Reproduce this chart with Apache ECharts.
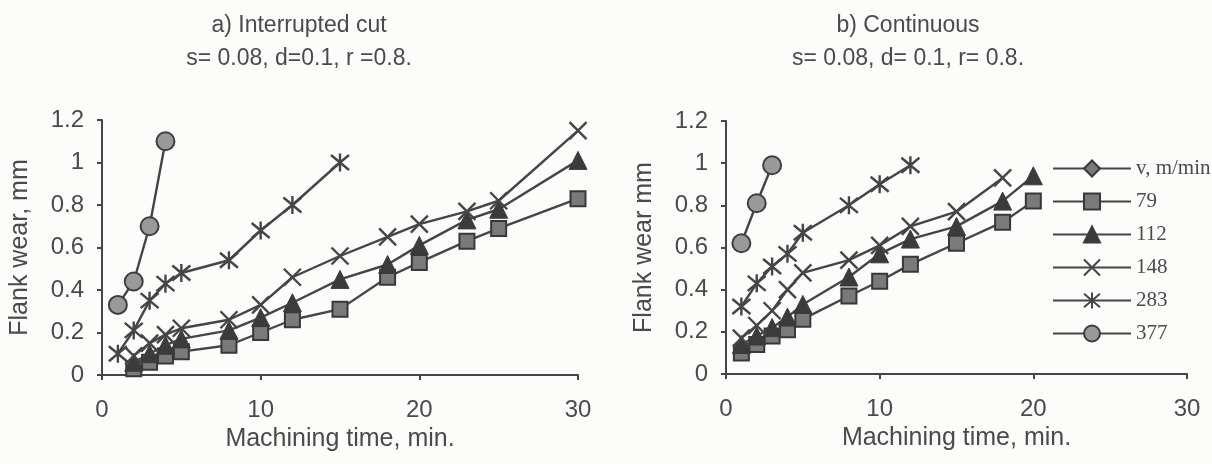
<!DOCTYPE html>
<html>
<head>
<meta charset="utf-8">
<script src="https://cdn.jsdelivr.net/npm/echarts@6/dist/echarts.min.js"></script>
<style>
html,body{margin:0;padding:0;background:#fcfcfa;}
#c{width:1212px;height:464px;}
</style>
</head>
<body>
<div id="c"></div>
<script>
// ---- Data ----
const seriesNames = ['79', '112', '148', '283', '377'];
const legendHeader = 'v, m/min';

// a) Interrupted cut
const a_x79  = [2, 3, 4, 5, 8, 10, 12, 15, 18, 20, 23, 25, 30];
const a_y79  = [0.03, 0.06, 0.09, 0.11, 0.14, 0.20, 0.26, 0.31, 0.46, 0.53, 0.63, 0.69, 0.83];
const a_x112 = [2, 3, 4, 5, 8, 10, 12, 15, 18, 20, 23, 25, 30];
const a_y112 = [0.06, 0.10, 0.14, 0.17, 0.21, 0.27, 0.34, 0.45, 0.52, 0.61, 0.73, 0.78, 1.01];
const a_x148 = [2, 3, 4, 5, 8, 10, 12, 15, 18, 20, 23, 25, 30];
const a_y148 = [0.09, 0.15, 0.19, 0.22, 0.26, 0.33, 0.46, 0.56, 0.65, 0.71, 0.77, 0.82, 1.15];
const a_x283 = [1, 2, 3, 4, 5, 8, 10, 12, 15];
const a_y283 = [0.10, 0.21, 0.35, 0.43, 0.48, 0.54, 0.68, 0.80, 1.00];
const a_x377 = [1, 2, 3, 4];
const a_y377 = [0.33, 0.44, 0.70, 1.10];

// b) Continuous
const b_x79  = [1, 2, 3, 4, 5, 8, 10, 12, 15, 18, 20];
const b_y79  = [0.10, 0.14, 0.18, 0.21, 0.26, 0.37, 0.44, 0.52, 0.62, 0.72, 0.82];
const b_x112 = [1, 2, 3, 4, 5, 8, 10, 12, 15, 18, 20];
const b_y112 = [0.14, 0.18, 0.22, 0.27, 0.33, 0.46, 0.57, 0.64, 0.70, 0.82, 0.94];
const b_x148 = [1, 2, 3, 4, 5, 8, 10, 12, 15, 18];
const b_y148 = [0.17, 0.23, 0.30, 0.40, 0.48, 0.54, 0.61, 0.70, 0.77, 0.93];
const b_x283 = [1, 2, 3, 4, 5, 8, 10, 12];
const b_y283 = [0.32, 0.43, 0.51, 0.57, 0.67, 0.80, 0.90, 0.99];
const b_x377 = [1, 2, 3];
const b_y377 = [0.62, 0.81, 0.99];

// tick settings
const xTicks = {min: 0, max: 30, interval: 10};
const yTicks = {min: 0, max: 1.2, interval: 0.2};

const titleA = ['a) Interrupted cut', 's= 0.08, d=0.1, r =0.8.'];
const titleB = ['b) Continuous', 's= 0.08, d= 0.1, r= 0.8.'];
const xName = 'Machining time, min.';
const yNameA = 'Flank wear, mm';
const yNameB = 'Flank wear mm';

// ---- Styles ----
const INK = '#454545';
const TXT = '#4a4a4a';
const SANS = '"Liberation Sans", Arial, sans-serif';
const SERIF = '"Liberation Serif", "Times New Roman", serif';

const symbolStyles = {
  '79':  {symbol: 'rect', symbolSize: 15, itemStyle: {color: '#7a7a7a', borderColor: '#383838', borderWidth: 2}},
  '112': {symbol: 'triangle', symbolSize: 18, itemStyle: {color: '#3b3b3b', borderColor: '#3b3b3b', borderWidth: 1}},
  '148': {symbol: 'path://M0,0L20,20M20,0L0,20', symbolSize: 17, itemStyle: {color: 'rgba(0,0,0,0)', borderColor: INK, borderWidth: 2.4}},
  '283': {symbol: 'path://M0,0L20,20M20,0L0,20M10,-2L10,22', symbolSize: 18, itemStyle: {color: 'rgba(0,0,0,0)', borderColor: INK, borderWidth: 2.4}},
  '377': {symbol: 'circle', symbolSize: 18, itemStyle: {color: '#999999', borderColor: '#3e3e3e', borderWidth: 2}}
};

function zip(xs, ys) { return xs.map((x, i) => [x, ys[i]]); }

function mkSeries(name, xs, ys, idx) {
  const s = symbolStyles[name];
  return {
    name: name, type: 'line', xAxisIndex: idx, yAxisIndex: idx,
    data: zip(xs, ys),
    symbol: s.symbol, symbolSize: s.symbolSize,
    itemStyle: s.itemStyle,
    lineStyle: {color: INK, width: 2.4},
    showAllSymbol: true, animation: false, z: 3
  };
}

function xAxis(gridIndex) {
  return {
    type: 'value', gridIndex: gridIndex, min: xTicks.min, max: xTicks.max, interval: xTicks.interval,
    name: xName, nameLocation: 'middle', nameGap: 51,
    nameTextStyle: {fontFamily: SANS, fontSize: 25, color: TXT},
    axisLine: {show: true, onZero: false, lineStyle: {color: INK, width: 2}},
    axisTick: {show: true, length: 5, lineStyle: {color: INK, width: 2}},
    axisLabel: {fontFamily: SANS, fontSize: 24, color: TXT, margin: 23},
    splitLine: {show: false}
  };
}
function yAxis(gridIndex, name) {
  return {
    type: 'value', gridIndex: gridIndex, min: yTicks.min, max: yTicks.max, interval: yTicks.interval,
    name: name, nameLocation: 'middle', nameGap: 69, nameRotate: 90,
    nameTextStyle: {fontFamily: SANS, fontSize: 25, color: TXT},
    axisLine: {show: true, onZero: false, lineStyle: {color: INK, width: 2}},
    axisTick: {show: true, length: 5, lineStyle: {color: INK, width: 2}},
    axisLabel: {fontFamily: SANS, fontSize: 24, color: TXT, margin: 18},
    splitLine: {show: false}
  };
}

const chart = echarts.init(document.getElementById('c'), null, {renderer: 'canvas'});
chart.setOption({
  backgroundColor: '#fcfcfa',
  animation: false,
  title: [
    {text: titleA.join('\n'), left: 294, top: 4, textAlign: 'center',
     textStyle: {fontFamily: SANS, fontSize: 23, fontWeight: 'normal', color: TXT, lineHeight: 33}},
    {text: titleB.join('\n'), left: 903, top: 4, textAlign: 'center',
     textStyle: {fontFamily: SANS, fontSize: 23, fontWeight: 'normal', color: TXT, lineHeight: 33}}
  ],
  grid: [
    {left: 102, top: 120, width: 476, height: 255},
    {left: 726, top: 121, width: 461, height: 253}
  ],
  xAxis: [xAxis(0), xAxis(1)],
  yAxis: [yAxis(0, yNameA), yAxis(1, yNameB)],
  legend: {
    data: [legendHeader].concat(seriesNames),
    orient: 'vertical', left: 1052, top: 156,
    itemWidth: 78, itemHeight: 20, itemGap: 12,
    textStyle: {fontFamily: SERIF, fontSize: 21, color: TXT},
    selectedMode: false, backgroundColor: 'rgba(252,252,250,0.9)', padding: [2, 2, 2, 0]
  },
  series: [
    {name: legendHeader, type: 'line', xAxisIndex: 1, yAxisIndex: 1, data: [],
     symbol: 'diamond', symbolSize: 20,
     itemStyle: {color: '#7a7a7a', borderColor: '#383838', borderWidth: 2},
     lineStyle: {color: INK, width: 2.4}},
    mkSeries('79', a_x79, a_y79, 0),
    mkSeries('112', a_x112, a_y112, 0),
    mkSeries('148', a_x148, a_y148, 0),
    mkSeries('283', a_x283, a_y283, 0),
    mkSeries('377', a_x377, a_y377, 0),
    mkSeries('79', b_x79, b_y79, 1),
    mkSeries('112', b_x112, b_y112, 1),
    mkSeries('148', b_x148, b_y148, 1),
    mkSeries('283', b_x283, b_y283, 1),
    mkSeries('377', b_x377, b_y377, 1)
  ]
});
</script>
</body>
</html>
